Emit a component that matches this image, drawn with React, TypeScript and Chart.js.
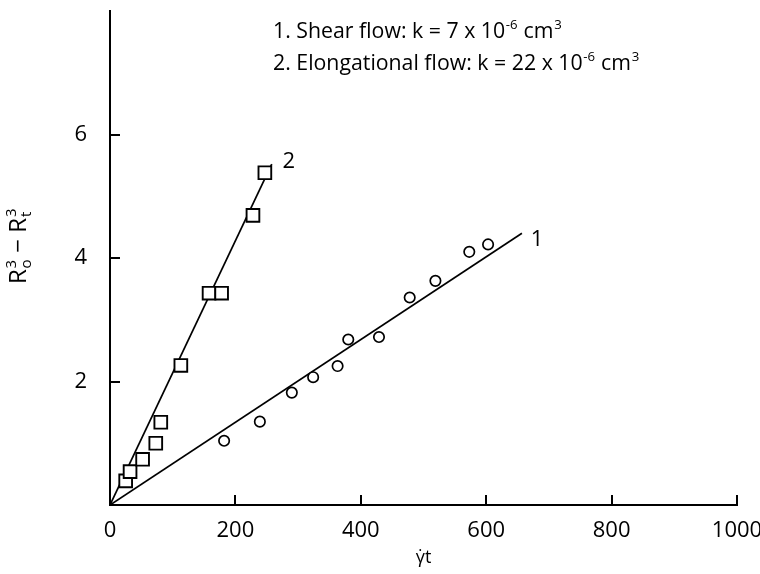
import React, { useEffect, useRef } from 'react';
import { Chart, registerables } from 'chart.js';

Chart.register(...registerables);

// ---- data ----
const shearX = [182, 239, 290, 324, 363, 380, 429, 478, 519, 573, 603];
const shearY = [1.04, 1.35, 1.82, 2.07, 2.25, 2.68, 2.72, 3.36, 3.63, 4.1, 4.22];
const elongX = [25, 32, 52, 73, 81, 113, 158, 178, 228, 247];
const elongY = [0.39, 0.54, 0.74, 1.0, 1.34, 2.26, 3.43, 3.43, 4.69, 5.38];
const fit1X = [0, 657];
const fit1Y = [0, 4.4];
const fit2X = [0, 258];
const fit2Y = [0, 5.52];
const xTickValues = [200, 400, 600, 800, 1000];
const yTickValues = [2, 4, 6];
const xTitle = 'γ̇t';
const lineLabels = ['1', '2'];

const FONT = "'Open Sans', 'Noto Sans', 'DejaVu Sans', sans-serif";

type Seg = { t: string; kind?: 'sup' | 'stack'; sub?: string };

const legendLine1: Seg[] = [
  { t: '1. Shear flow: k = 7 x 10' },
  { t: '-6', kind: 'sup' },
  { t: ' cm' },
  { t: '3', kind: 'sup' },
];
const legendLine2: Seg[] = [
  { t: '2. Elongational flow: k = 22 x 10' },
  { t: '-6', kind: 'sup' },
  { t: ' cm' },
  { t: '3', kind: 'sup' },
];
const yTitle: Seg[] = [
  { t: 'R' },
  { t: '3', kind: 'stack', sub: 'o' },
  { t: ' − ' },
  { t: 'R' },
  { t: '3', kind: 'stack', sub: 't' },
];

const pts = (xs: number[], ys: number[]) => xs.map((x, i) => ({ x, y: ys[i] }));

function setFont(ctx: CanvasRenderingContext2D, size: number) {
  ctx.font = `${size}px ${FONT}`;
}
function segWidth(ctx: CanvasRenderingContext2D, s: Seg, size: number) {
  if (!s.kind) {
    setFont(ctx, size);
    return ctx.measureText(s.t).width;
  }
  setFont(ctx, size * 0.62);
  if (s.kind === 'sup') return ctx.measureText(s.t).width + size * 0.05;
  return Math.max(ctx.measureText(s.t).width, ctx.measureText(s.sub || '').width) + size * 0.05;
}
function segsWidth(ctx: CanvasRenderingContext2D, segs: Seg[], size: number) {
  return segs.reduce((a, s) => a + segWidth(ctx, s, size), 0);
}
function drawSegs(ctx: CanvasRenderingContext2D, segs: Seg[], x: number, y: number, size: number) {
  let cx = x;
  ctx.textAlign = 'left';
  ctx.textBaseline = 'alphabetic';
  for (const s of segs) {
    const w = segWidth(ctx, s, size);
    if (!s.kind) {
      setFont(ctx, size);
      ctx.fillText(s.t, cx, y);
    } else {
      setFont(ctx, size * 0.62);
      ctx.fillText(s.t, cx + size * 0.03, y - size * 0.4);
      if (s.kind === 'stack') ctx.fillText(s.sub || '', cx + size * 0.03, y + size * 0.22);
    }
    cx += w;
  }
}
function fitSize(ctx: CanvasRenderingContext2D, segs: Seg[], target: number) {
  return (100 * target) / segsWidth(ctx, segs, 100);
}

const annotations = {
  id: 'annotations',
  afterDraw(chart: any) {
    const ctx: CanvasRenderingContext2D = chart.ctx;
    const xs = chart.scales.x;
    const ys = chart.scales.y;
    const { left, bottom } = chart.chartArea;
    ctx.save();
    ctx.strokeStyle = '#000';
    ctx.fillStyle = '#000';
    ctx.lineWidth = 2;
    // inward tick marks
    ctx.beginPath();
    for (const v of xTickValues) {
      const px = Math.round(xs.getPixelForValue(v));
      ctx.moveTo(px, bottom);
      ctx.lineTo(px, bottom - 10);
    }
    for (const v of yTickValues) {
      const py = Math.round(ys.getPixelForValue(v));
      ctx.moveTo(left, py);
      ctx.lineTo(left + 10, py);
    }
    ctx.stroke();

    // legend text
    const lsize = fitSize(ctx, legendLine2, 367);
    drawSegs(ctx, legendLine1, 273, 38, lsize);
    drawSegs(ctx, legendLine2, 273, 70, lsize);

    // line labels
    setFont(ctx, 22);
    ctx.textAlign = 'center';
    ctx.textBaseline = 'middle';
    ctx.fillText(lineLabels[0], xs.getPixelForValue(fit1X[1]) + 15, ys.getPixelForValue(fit1Y[1]) + 6);
    ctx.fillText(lineLabels[1], xs.getPixelForValue(fit2X[1]) + 17, ys.getPixelForValue(fit2Y[1]) - 2);

    // x title
    setFont(ctx, 18);
    ctx.textAlign = 'center';
    ctx.textBaseline = 'middle';
    ctx.fillText(xTitle, (chart.chartArea.left + chart.chartArea.right) / 2, 558);

    // y title (rotated)
    const ysize = fitSize(ctx, yTitle, 76);
    const yw = segsWidth(ctx, yTitle, ysize);
    ctx.translate(26, 246);
    ctx.rotate(-Math.PI / 2);
    drawSegs(ctx, yTitle, -yw / 2, 0, ysize);
    ctx.restore();
  },
};

export default function App() {
  const ref = useRef<HTMLCanvasElement | null>(null);
  useEffect(() => {
    if (!ref.current) return;
    const black = '#000';
    const chart = new Chart(ref.current, {
      type: 'scatter',
      data: {
        datasets: [
          {
            label: 'Elongational',
            data: pts(elongX, elongY),
            pointStyle: 'rect',
            pointRadius: 9,
            pointBorderWidth: 1.9,
            pointBackgroundColor: '#fff',
            pointBorderColor: black,
            showLine: false,
          },
          {
            label: 'Shear',
            data: pts(shearX, shearY),
            pointStyle: 'circle',
            pointRadius: 5.2,
            pointBorderWidth: 1.7,
            pointBackgroundColor: '#fff',
            pointBorderColor: black,
            showLine: false,
          },
          {
            label: 'fit 1',
            data: pts(fit1X, fit1Y),
            showLine: true,
            pointRadius: 0,
            borderColor: black,
            borderWidth: 1.7,
          },
          {
            label: 'fit 2',
            data: pts(fit2X, fit2Y),
            showLine: true,
            pointRadius: 0,
            borderColor: black,
            borderWidth: 1.7,
          },
        ],
      },
      options: {
        responsive: false,
        animation: false,
        layout: { padding: { left: 0, right: 23, top: 11, bottom: 0 } },
        plugins: { legend: { display: false }, tooltip: { enabled: false } },
        scales: {
          x: {
            type: 'linear',
            min: 0,
            max: 1000,
            grid: { display: false },
            border: { display: true, color: black, width: 2 },
            ticks: {
              stepSize: 200,
              color: '#000',
              padding: 5,
              maxRotation: 0,
              font: { family: FONT, size: 22 },
              callback: (v: any) => String(v),
            },
            afterFit(scale: any) {
              scale.height = 69;
              scale.paddingLeft = 0;
              scale.paddingRight = 0;
            },
          },
          y: {
            type: 'linear',
            min: 0,
            max: 8,
            grid: { display: false },
            border: { display: true, color: black, width: 2 },
            ticks: {
              stepSize: 2,
              color: '#000',
              padding: 15,
              font: { family: FONT, size: 22 },
              callback: (v: any) => (yTickValues.includes(Number(v)) ? String(v) : ''),
            },
            afterFit(scale: any) {
              scale.width = 110;
              scale.paddingTop = 0;
              scale.paddingBottom = 0;
            },
          },
        },
      },
      plugins: [annotations],
    });
    return () => chart.destroy();
  }, []);
  return (
    <div style={{ position: 'fixed', left: 0, top: 0, width: 760, height: 574, background: '#fff' }}>
      <canvas ref={ref} width={760} height={574} style={{ width: 760, height: 574 }} />
    </div>
  );
}
